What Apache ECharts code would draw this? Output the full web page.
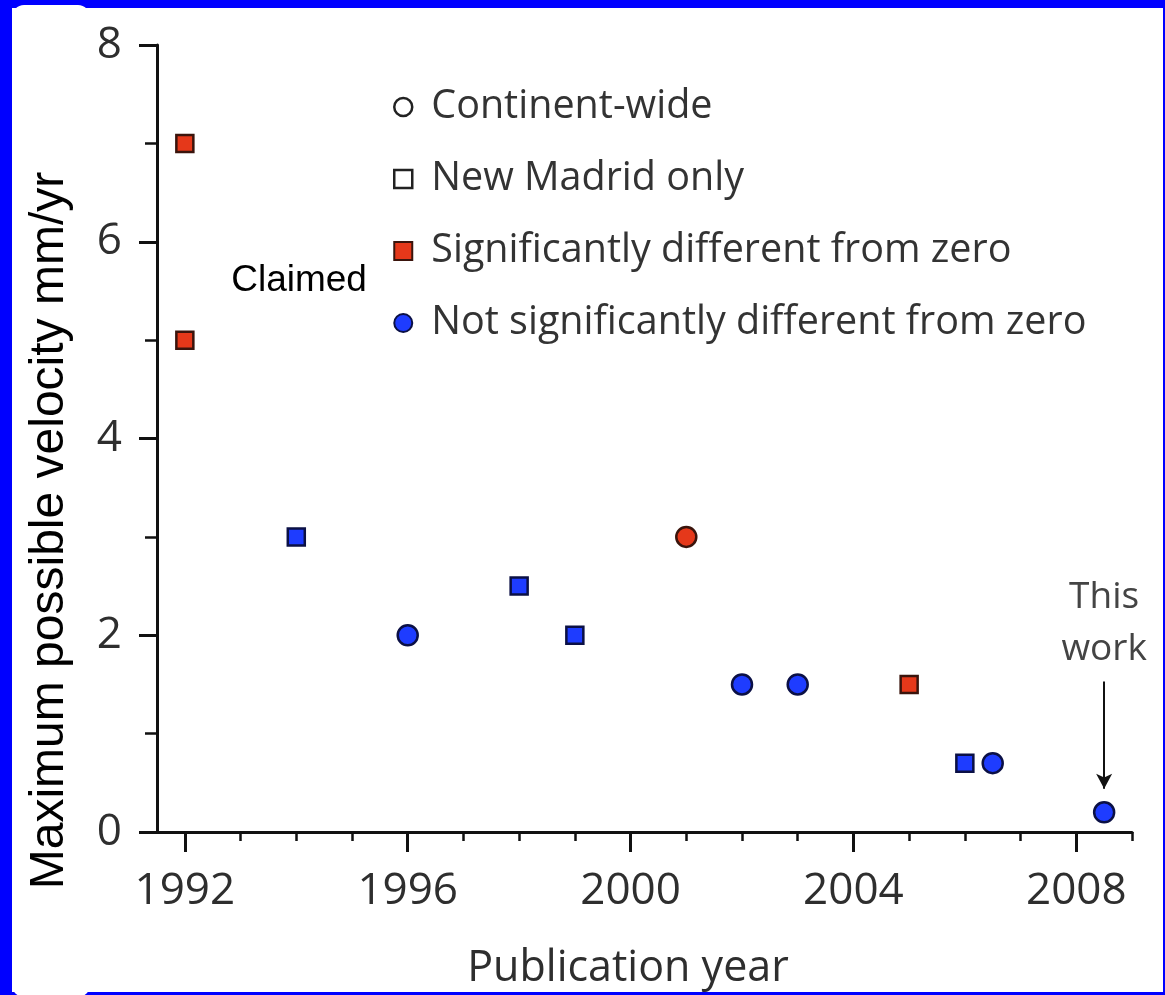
<!DOCTYPE html>
<html>
<head>
<meta charset="utf-8">
<script src="https://cdn.jsdelivr.net/npm/echarts@6/dist/echarts.min.js"></script>
<style>
  html, body { margin: 0; padding: 0; width: 1165px; height: 995px; overflow: hidden; background: #0000ff; }
  #panel { position: absolute; left: 12px; top: 8px; width: 1151px; height: 984px; background: #fff; }
  #tab { position: absolute; left: 12px; top: 5px; width: 78px; height: 992px; background: #fff; border-radius: 12px; }
  #chart { position: absolute; left: 0; top: 0; width: 1165px; height: 995px; }
</style>
</head>
<body>
<div id="panel"></div>
<div id="tab"></div>
<div id="chart"></div>
<script>
// ---- data ----
const xMajorTicks = [1992, 1996, 2000, 2004, 2008];
const xMinorTicks = [1993, 1994, 1995, 1997, 1998, 1999, 2001, 2002, 2003, 2005, 2006, 2007, 2009];

// Significantly different from zero (red)
const redYears  = [1992, 1992, 2001, 2005];
const redValues = [7.0, 5.0, 3.0, 1.5];
const redShapes = ['rect', 'rect', 'circle', 'rect'];

// Not significantly different from zero (blue)
const blueYears  = [1994, 1996, 1998, 1999, 2002, 2003, 2006, 2006.5, 2008.5];
const blueValues = [3.0, 2.0, 2.5, 2.0, 1.5, 1.5, 0.7, 0.7, 0.2];
const blueShapes = ['rect', 'circle', 'rect', 'rect', 'circle', 'circle', 'rect', 'circle', 'circle'];

const legendNames = ['Continent-wide', 'New Madrid only', 'Significantly different from zero', 'Not significantly different from zero'];

// annotations (data coordinates)
const claimedAt  = [1994.05, 5.6];
const thisWorkAt = [2008.5, 2.12];
const arrowFrom  = [2008.5, 1.53];
const arrowTo    = [2008.5, 0.44];

// ---- styles ----
const FONT = '"Open Sans", "Noto Sans", sans-serif';
const RED = '#e5381a', RED_BORDER = '#3a140c';
const BLUE = '#1e3cff', BLUE_BORDER = '#0b1045';

function buildPoints(xs, ys, shapes) {
  return xs.map((x, i) => ({
    value: [x, ys[i]],
    symbol: shapes[i],
    symbolSize: shapes[i] === 'rect' ? 17 : 20
  }));
}

const chart = echarts.init(document.getElementById('chart'), null, { renderer: 'canvas' });

chart.setOption({
  animation: false,
  grid: { left: 157, top: 45, width: 975, height: 788, containLabel: false },
  legend: {
    orient: 'vertical',
    left: 388,
    top: 82,
    itemGap: 32,
    itemWidth: 18,
    itemHeight: 18,
    selectedMode: false,
    textStyle: { fontFamily: FONT, fontSize: 39.5, color: '#333', padding: [0, 0, 0, 14] },
    data: [
      { name: legendNames[0], icon: 'circle', itemStyle: { color: '#fff', borderColor: '#222', borderWidth: 2.5, opacity: 1 } },
      { name: legendNames[1], icon: 'rect', itemStyle: { color: '#fff', borderColor: '#222', borderWidth: 2.5, opacity: 1 } },
      { name: legendNames[2], icon: 'rect', itemStyle: { color: RED, borderColor: RED_BORDER, borderWidth: 2, opacity: 1 } },
      { name: legendNames[3], icon: 'circle', itemStyle: { color: BLUE, borderColor: BLUE_BORDER, borderWidth: 2, opacity: 1 } }
    ]
  },
  xAxis: [
    {
      type: 'value',
      min: 1991.5,
      max: 2009,
      position: 'bottom',
      name: 'Publication year',
      nameLocation: 'middle',
      nameGap: 115,
      nameTextStyle: { fontFamily: FONT, fontSize: 43, color: '#2e2e2e', padding: [0, 33, 0, 0] },
      axisLine: { show: true, onZero: false, lineStyle: { color: '#111', width: 3 } },
      axisTick: { show: true, length: 20, lineStyle: { color: '#111', width: 3 }, customValues: xMajorTicks },
      axisLabel: { fontFamily: FONT, fontSize: 44, color: '#2e2e2e', margin: 37, customValues: xMajorTicks, formatter: v => String(v) },
      splitLine: { show: false }
    },
    {
      type: 'value',
      min: 1991.5,
      max: 2009,
      position: 'bottom',
      axisLine: { show: false },
      axisTick: { show: true, length: 9, lineStyle: { color: '#111', width: 2.5 }, customValues: xMinorTicks },
      axisLabel: { show: false },
      splitLine: { show: false }
    }
  ],
  yAxis: {
    type: 'value',
    min: 0,
    max: 8,
    interval: 2,
    name: 'Maximum possible velocity mm/yr',
    nameLocation: 'middle',
    nameGap: 83,
    nameTextStyle: { fontFamily: '"Liberation Sans", Arial, sans-serif', fontSize: 48, color: '#000', padding: [0, 184, 0, 0] },
    axisLine: { show: true, lineStyle: { color: '#111', width: 3 } },
    axisTick: { show: true, length: 18, lineStyle: { color: '#111', width: 3 } },
    minorTick: { show: true, splitNumber: 2, length: 12, lineStyle: { color: '#111', width: 2.5 } },
    axisLabel: { fontFamily: FONT, fontSize: 44, color: '#2e2e2e', margin: 35 },
    splitLine: { show: false }
  },
  series: [
    { name: legendNames[0], type: 'scatter', data: [], itemStyle: { color: '#fff', borderColor: '#222', borderWidth: 2.5, opacity: 1 } },
    { name: legendNames[1], type: 'scatter', data: [], itemStyle: { color: '#fff', borderColor: '#222', borderWidth: 2.5, opacity: 1 } },
    {
      name: legendNames[2], type: 'scatter', z: 5,
      data: buildPoints(redYears, redValues, redShapes),
      itemStyle: { color: RED, borderColor: RED_BORDER, borderWidth: 2.5, opacity: 1 }
    },
    {
      name: legendNames[3], type: 'scatter', z: 5,
      data: buildPoints(blueYears, blueValues, blueShapes),
      itemStyle: { color: BLUE, borderColor: BLUE_BORDER, borderWidth: 2.5, opacity: 1 }
    },
    {
      name: 'annotations', type: 'scatter', silent: true,
      symbol: 'circle', symbolSize: 1,
      itemStyle: { color: 'rgba(0,0,0,0)', opacity: 1 },
      data: [
        { value: claimedAt, label: { show: true, formatter: 'Claimed', position: 'inside', fontFamily: '"Liberation Sans", Arial, sans-serif', fontSize: 37, color: '#000' } },
        { value: thisWorkAt, label: { show: true, formatter: 'This\nwork', position: 'inside', fontFamily: FONT, fontSize: 37, lineHeight: 52, color: '#444' } }
      ],
      markLine: {
        silent: true,
        symbol: ['none', 'arrow'],
        symbolSize: [12, 15],
        label: { show: false },
        lineStyle: { color: '#111', width: 2, type: 'solid', opacity: 1 },
        itemStyle: { color: '#111' },
        data: [[{ coord: arrowFrom }, { coord: arrowTo }]]
      }
    }
  ]
});
</script>
</body>
</html>
